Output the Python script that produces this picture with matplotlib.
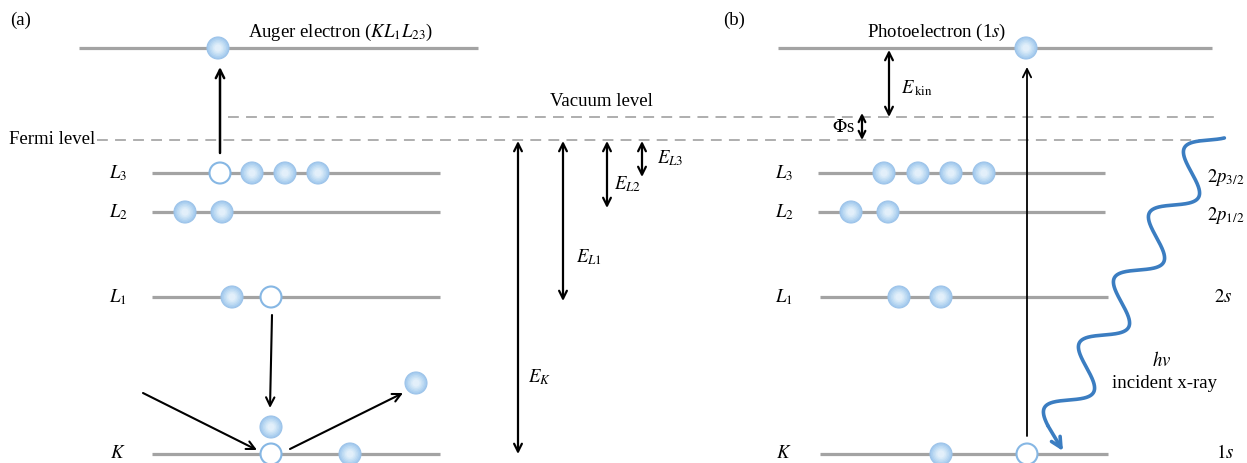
import numpy as np
import matplotlib.pyplot as plt
from matplotlib.patches import Circle

plt.rcParams['font.family'] = ['Liberation Serif', 'DejaVu Serif']
plt.rcParams['mathtext.fontset'] = 'stix'
plt.rcParams['font.size'] = 13.5

W, H = 1247, 463

# energy levels, as image rows (downwards = more tightly bound)
level_y = {'free': 48, 'L3': 173, 'L2': 212, 'L1': 297, 'K': 454}
vacuum_y = 117
fermi_y = 140
level_labels = {'L3': '$L_3$', 'L2': '$L_2$', 'L1': '$L_1$', 'K': '$K$'}
orbital_labels = {'L3': '$2p_{3/2}$', 'L2': '$2p_{1/2}$', 'L1': '$2s$', 'K': '$1s$'}

# panel (a): Auger emission
a_free_span = (79, 478)
a_span = (152, 440)
a_electrons = {'free': [218], 'L3': [252, 285, 318], 'L2': [185, 222],
               'L1': [232], 'K': [350]}
a_holes = {'L3': [220], 'L1': [271], 'K': [271]}
a_loose = [(271, 427), (416, 383)]

# panel (b): photoemission
b_free_span = (778, 1212)
b_spans = {'L3': (818, 1105), 'L2': (818, 1105), 'L1': (820, 1108), 'K': (820, 1108)}
b_electrons = {'free': [1026], 'L3': [884, 918, 951, 984], 'L2': [851, 888],
               'L1': [899, 941], 'K': [941]}
b_holes = {'K': [1027]}

# binding energy arrows (x, bottom row, label)
binding = [(518, level_y['K'], '$E_K$'), (563, 301, '$E_{L1}$'),
           (607, 208, '$E_{L2}$'), (642, 177, '$E_{L3}$')]

level_color = '#a3a3a3'
dash_color = '#a8a8a8'
wave_color = '#3b7dc1'

fig = plt.figure(figsize=(W / 100, H / 100), dpi=100)
ax = fig.add_axes([0, 0, 1, 1])
ax.set_xlim(0, W)
ax.set_ylim(H, 0)
ax.axis('off')


def level(x0, x1, y):
    ax.plot([x0, x1], [y, y], color=level_color, lw=2.3, solid_capstyle='butt', zorder=1)


def electron(x, y, r=11):
    shades = ['#a4caee', '#b0d2f0', '#bddaf3', '#cae2f5', '#d6e9f8', '#e2effa']
    for i, c in enumerate(shades):
        ax.add_patch(Circle((x, y), r * (1 - 0.8 * i / len(shades)), fc=c, ec='none', zorder=4))
    ax.add_patch(Circle((x, y), r, fc='none', ec='#9cc3e9', lw=0.8, zorder=5))


def hole(x, y, r=10.5):
    ax.add_patch(Circle((x, y), r, fc='white', ec='#86b7e4', lw=1.5, zorder=4))


def arrow(start, tip, style='->', lw=1.5, ms=15, color='black'):
    ax.annotate('', xy=tip, xytext=start,
                arrowprops=dict(arrowstyle=style, lw=lw, color=color,
                                shrinkA=0, shrinkB=0, mutation_scale=ms), zorder=3)


# dashed reference levels
ax.plot([97, 1218], [fermi_y, fermi_y], color=dash_color, lw=1.3, dashes=(6, 4), zorder=0)
ax.plot([228, 1214], [vacuum_y, vacuum_y], color=dash_color, lw=1.3, dashes=(6, 4), zorder=0)
ax.text(95, fermi_y, 'Fermi level', ha='right', va='center')
ax.text(601, 101, 'Vacuum level', ha='center', va='center')

# ---- panel (a)
ax.text(10, 20, '(a)', ha='left', va='center')
level(*a_free_span, level_y['free'])
for k in ['L3', 'L2', 'L1', 'K']:
    level(*a_span, level_y[k])
    ax.text(118, level_y[k], level_labels[k], ha='center', va='center')
for k, xs in a_electrons.items():
    for x in xs:
        electron(x, level_y[k])
for k, xs in a_holes.items():
    for x in xs:
        hole(x, level_y[k])
for x, y in a_loose:
    electron(x, y)
ax.text(341, 32, 'Auger electron ($KL_1L_{23}$)', ha='center', va='center')

arrow((220, 153), (220, 67), lw=1.8)
arrow((272, 315), (270, 408), lw=1.5)
arrow((143, 393), (257, 450), lw=1.5)
arrow((290, 449), (403, 393), lw=1.5)

for x, y_bot, lab in binding:
    arrow((x, y_bot), (x, fermi_y + 1), style='<->', lw=1.6, ms=14)
ax.text(528, 377, '$E_K$', ha='left', va='center')
ax.text(576, 257, '$E_{L1}$', ha='left', va='center')
ax.text(614, 184, '$E_{L2}$', ha='left', va='center')
ax.text(657, 158, '$E_{L3}$', ha='left', va='center')

# ---- panel (b)
ax.text(723, 20, '(b)', ha='left', va='center')
level(*b_free_span, level_y['free'])
for k, (x0, x1) in b_spans.items():
    level(x0, x1, level_y[k])
    ax.text(784, level_y[k], level_labels[k], ha='center', va='center')
for k, xs in b_electrons.items():
    for x in xs:
        electron(x, level_y[k])
for k, xs in b_holes.items():
    for x in xs:
        hole(x, level_y[k])
ax.text(937, 32, 'Photoelectron (1$s$)', ha='center', va='center')

orbital_pos = {'L3': (1207, 177), 'L2': (1207, 215), 'L1': (1214, 297), 'K': (1216, 453)}
for k, (x, y) in orbital_pos.items():
    ax.text(x, y, orbital_labels[k], ha='left', va='center')

arrow((1027, 436), (1027, 67), lw=1.3)
arrow((889, 117), (889, 50), style='<->', lw=1.6, ms=14)
arrow((862, 140), (862, 113), style='<->', lw=1.6, ms=12)
ax.text(901, 88, r'$E_{\,\mathrm{kin}}$', ha='left', va='center')
ax.text(832, 128, '$\\Phi$s', ha='left', va='center')

# incident x-ray: sine wave running down-left towards the K shell
centre = np.array([1191.5, 172.5])
step = np.array([-35.0, 65.0])           # one wavelength along the ray
wavelength = np.hypot(*step)
u = step / wavelength
n = np.array([u[1], -u[0]])
amp = 18.0
t = np.linspace(-46, 291, 800)
pts = centre + np.outer(t, u) + np.outer(amp * np.sin(2 * np.pi * t / wavelength), n)
ax.plot(pts[:, 0], pts[:, 1], color=wave_color, lw=2.6, solid_capstyle='round', zorder=2)
tip = (1063, level_y['K'] - 3)
arrow(tuple(pts[-1]), tip, lw=2.6, ms=18, color=wave_color)

ax.text(1162, 360, '$hv$', ha='center', va='center')
ax.text(1165, 383, 'incident x-ray', ha='center', va='center')

fig.savefig('out.png', dpi=100)
